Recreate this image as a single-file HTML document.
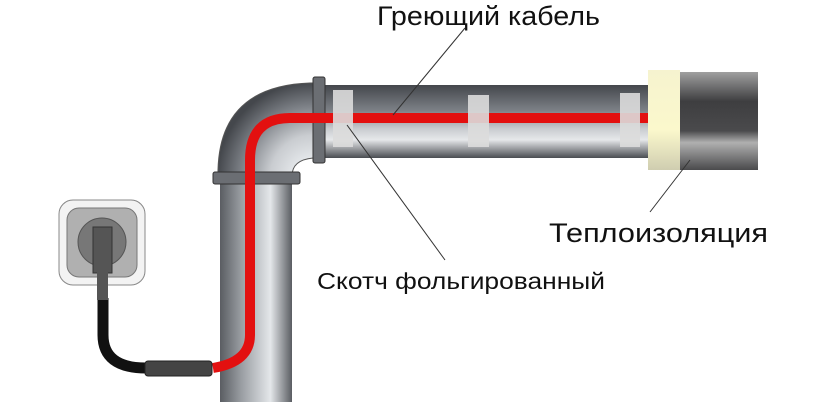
<!DOCTYPE html><html><head><style>body{margin:0;background:#fff}svg{display:block}</style></head><body>
<svg width="830" height="408" viewBox="0 0 830 408" xmlns="http://www.w3.org/2000/svg">
<defs>
<linearGradient id="hp" x1="0" y1="0" x2="0" y2="1"><stop offset="0" stop-color="#44474c"/><stop offset=".35" stop-color="#7d8187"/><stop offset=".6" stop-color="#c9ccd0"/><stop offset=".75" stop-color="#e6e8ea"/><stop offset="1" stop-color="#4a4d52"/></linearGradient>
<linearGradient id="vp" x1="0" y1="0" x2="1" y2="0"><stop offset="0" stop-color="#5a5d62"/><stop offset=".3" stop-color="#9a9ea3"/><stop offset=".7" stop-color="#e4e7ea"/><stop offset="1" stop-color="#5a5d62"/></linearGradient>
<radialGradient id="el" cx="313" cy="178" r="96" gradientUnits="userSpaceOnUse"><stop offset=".2" stop-color="#e4e7ea"/><stop offset=".45" stop-color="#c9ccd0"/><stop offset=".75" stop-color="#7d8187"/><stop offset="1" stop-color="#44474c"/></radialGradient>
<linearGradient id="ins" x1="0" y1="0" x2="0" y2="1"><stop offset="0" stop-color="#a0a0a0"/><stop offset=".3" stop-color="#3e3e40"/><stop offset=".6" stop-color="#4a4a4c"/><stop offset=".72" stop-color="#b0b0b0"/><stop offset="1" stop-color="#4a4a4c"/></linearGradient>
<linearGradient id="yel" x1="0" y1="0" x2="0" y2="1"><stop offset="0" stop-color="#f6f3cf"/><stop offset=".6" stop-color="#fbf8cc"/><stop offset="1" stop-color="#cfcdb0"/></linearGradient>
</defs>
<!-- vertical pipe -->
<rect x="220" y="182" width="72" height="220" fill="url(#vp)"/>
<!-- elbow -->
<path d="M218 176 L218 170 Q220 86 310 83 L314 83 L314 158 L313 158 Q292 160 292 176 Z" fill="url(#el)" stroke="#555" stroke-width="1"/>
<!-- horizontal pipe -->
<rect x="325" y="85" width="323" height="73" fill="url(#hp)"/>
<!-- flanges -->
<rect x="313" y="77" width="12" height="86" rx="2" fill="#6b6e73" stroke="#333"/>
<rect x="213" y="172" width="87" height="12" rx="2" fill="#6b6e73" stroke="#333"/>
<!-- red cable -->
<path d="M648 118 L290 118 Q250 118 250 160 L250 335 Q250 362 213 368" fill="none" stroke="#e31010" stroke-width="10"/>
<!-- clamps -->
<rect x="333" y="90" width="20" height="57" fill="#dcdcdc" opacity=".9"/>
<rect x="468" y="95" width="21" height="52" fill="#dcdcdc" opacity=".9"/>
<rect x="620" y="93" width="20" height="54" fill="#dcdcdc" opacity=".9"/>
<!-- insulation -->
<rect x="648" y="70" width="32" height="100" fill="url(#yel)"/>
<rect x="680" y="72" width="78" height="98" fill="url(#ins)"/>
<!-- socket -->
<rect x="59" y="200" width="86" height="85" rx="14" fill="#f3f3f3" stroke="#888"/>
<rect x="67" y="208" width="70" height="69" rx="12" fill="#b0b0b0" stroke="#777"/>
<circle cx="102" cy="242" r="24" fill="#777" stroke="#555"/>
<path d="M103 298 L103 335 Q103 368 146 368" fill="none" stroke="#111" stroke-width="11"/>
<rect x="93" y="227" width="19" height="46" fill="#555" stroke="#333"/>
<rect x="97" y="272" width="11" height="28" fill="#555"/>
<rect x="145" y="361" width="67" height="15" rx="3" fill="#444" stroke="#222"/>
<!-- leaders -->
<g stroke="#333" stroke-width="1"><line x1="465" y1="28" x2="393" y2="115"/><line x1="347" y1="125" x2="445" y2="260"/><line x1="690" y1="160" x2="650" y2="212"/></g>
<g font-family="Liberation Sans, sans-serif" fill="#111">
<text x="377" y="25" font-size="27" textLength="223" lengthAdjust="spacingAndGlyphs">Греющий кабель</text>
<text x="549" y="242" font-size="27" textLength="219" lengthAdjust="spacingAndGlyphs">Теплоизоляция</text>
<text x="317" y="289" font-size="23" textLength="288" lengthAdjust="spacingAndGlyphs">Скотч фольгированный</text>
</g>
</svg></body></html>
